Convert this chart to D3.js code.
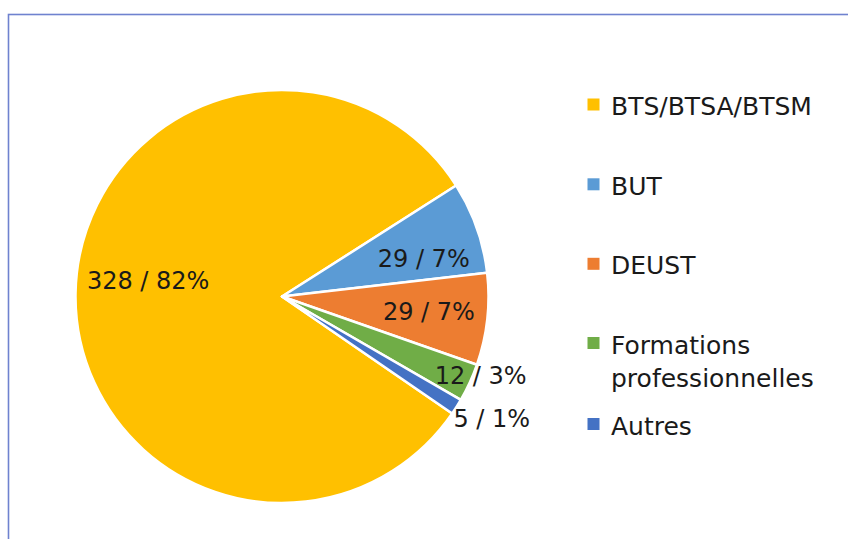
<!DOCTYPE html>
<html>
<head>
<meta charset="utf-8">
<script src="https://cdn.jsdelivr.net/npm/d3@7/dist/d3.min.js"></script>
<style>
  html, body { margin: 0; padding: 0; background: #fff; }
  svg { display: block; }
  text { font-family: "DejaVu Sans", "Noto Sans", sans-serif; fill: #1a1a1a; }
</style>
</head>
<body>
<svg id="chart" width="848" height="539"></svg>
<script>
// Répartition des formations
const categories = ["BTS/BTSA/BTSM", "BUT", "DEUST", "Formations professionnelles", "Autres"];
const values = [328, 29, 29, 12, 5];
const percents = ["82%", "7%", "7%", "3%", "1%"];
const colors = ["#FFC000", "#5B9BD5", "#ED7D31", "#70AD47", "#4472C4"];

const W = 848, H = 539;
const svg = d3.select("#chart");

// chart frame (runs off the right and bottom edges)
svg.append("rect")
  .attr("x", 8.5).attr("y", 14.5)
  .attr("width", W + 20).attr("height", H + 20)
  .attr("fill", "none")
  .attr("stroke", "#6f82cf")
  .attr("stroke-width", 1.6);

const cx = 282, cy = 296.5, R = 206.5;
const deg = Math.PI / 180;
const rot = 124.5 * deg;

const pie = d3.pie().sort(null).value(d => d)
  .startAngle(rot).endAngle(rot + 2 * Math.PI);
const arcs = pie(values);

const arc = d3.arc().innerRadius(0).outerRadius(R);

const g = svg.append("g").attr("transform", `translate(${cx},${cy})`);

g.selectAll("path.slice")
  .data(arcs)
  .join("path")
  .attr("class", "slice")
  .attr("d", arc)
  .attr("fill", (d, i) => colors[i])
  .attr("stroke", "#fff")
  .attr("stroke-width", 2.5)
  .attr("stroke-linejoin", "round");

// label placement: radius (fraction of R) and angular nudge per slice
const labelLayout = [
  { r: 0.653, da: 5.9 },
  { r: 0.711, da: 4.4 },
  { r: 0.715, da: -0.5 },
  { r: 1.035, da: -3.0 },
  { r: 1.174, da: -2.2 }
];

g.selectAll("text.lbl")
  .data(arcs)
  .join("text")
  .attr("class", "lbl")
  .attr("transform", (d, i) => {
    const a = (d.startAngle + d.endAngle) / 2 + labelLayout[i].da * deg;
    const r = R * labelLayout[i].r;
    return `translate(${r * Math.sin(a)},${-r * Math.cos(a)})`;
  })
  .attr("text-anchor", "middle")
  .attr("dy", "0.36em")
  .attr("font-size", 24)
  .text((d, i) => `${values[i]} / ${percents[i]}`);

// legend
const legendY = [104.5, 184.3, 263.8, 343, 424];
const leg = svg.append("g");
categories.forEach((c, i) => {
  const y = legendY[i];
  leg.append("rect")
    .attr("x", 587.5).attr("y", y - 6)
    .attr("width", 12).attr("height", 12)
    .attr("fill", colors[i]);
  const t = leg.append("text")
    .attr("x", 611).attr("y", y + 10.5)
    .attr("font-size", 25);
  if (c === "Formations professionnelles") {
    t.append("tspan").attr("x", 611).text("Formations");
    t.append("tspan").attr("x", 611).attr("dy", 33).text("professionnelles");
  } else {
    t.text(c);
  }
});
</script>
</body>
</html>
